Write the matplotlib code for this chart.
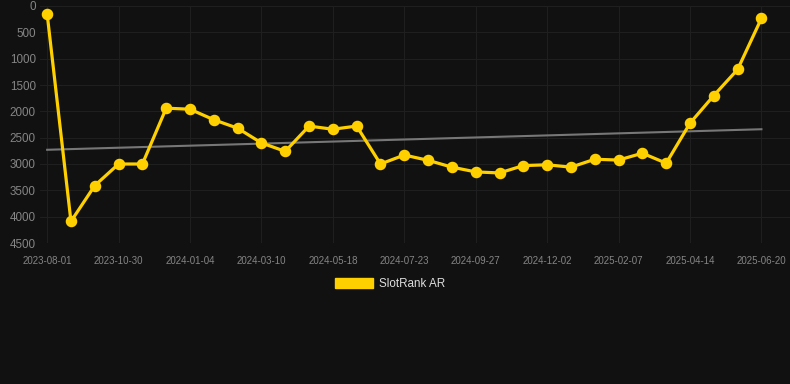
import matplotlib
matplotlib.use('Agg')
import matplotlib.pyplot as plt
from matplotlib.patches import Patch

# data (rank, lower is better -> inverted axis)
dates = ['2023-08-01', '2023-09-15', '2023-10-08', '2023-10-30', '2023-11-21', '2023-12-13',
         '2024-01-04', '2024-01-26', '2024-02-17', '2024-03-10', '2024-04-02', '2024-04-25',
         '2024-05-18', '2024-06-09', '2024-07-01', '2024-07-23', '2024-08-14', '2024-09-05',
         '2024-09-27', '2024-10-19', '2024-11-10', '2024-12-02', '2024-12-24', '2025-01-15',
         '2025-02-07', '2025-03-01', '2025-03-23', '2025-04-14', '2025-05-06', '2025-05-28',
         '2025-06-20']
ranks = [150, 4090, 3410, 3000, 3000, 1940, 1960, 2160, 2320, 2600, 2760, 2280,
         2340, 2280, 3000, 2830, 2930, 3060, 3150, 3170, 3030, 3015, 3060, 2910,
         2925, 2795, 2985, 2225, 1700, 1205, 235]
trend = [2730, 2340]  # trend line value at first and last point
series_name = 'SlotRank AR'

BG = '#111111'
YELLOW = '#ffd000'
GRID = '#1f1f1f'
TICK = '#858585'

plt.rcParams['font.family'] = ['Liberation Sans', 'DejaVu Sans']

fig = plt.figure(figsize=(7.9, 3.84), dpi=100, facecolor=BG)
ax = fig.add_axes([40 / 790, 1 - 243 / 384, 750 / 790, 237 / 384])
ax.set_facecolor(BG)

x = list(range(len(ranks)))
ax.plot([x[0], x[-1]], trend, color='#777777', lw=1.5, zorder=2)
ax.plot(x, ranks, color=YELLOW, lw=2.3, marker='o', ms=7.3, zorder=3)

ax.set_ylim(4500, 0)
ax.set_yticks(range(0, 4501, 500))
ax.set_xlim(-0.3, 31.2)
ax.set_xticks(x[::3])
ax.set_xticklabels(dates[::3])

ax.grid(True, color=GRID, lw=0.8)
ax.set_axisbelow(True)
for s in ax.spines.values():
    s.set_visible(False)
ax.tick_params(axis='y', colors=TICK, labelsize=8.4, length=0, pad=3)
ax.tick_params(axis='x', colors=TICK, labelsize=7, length=0, pad=9)

fig.legend(handles=[Patch(color=YELLOW, label=series_name)], loc='center',
           bbox_to_anchor=(390 / 790, 1 - 284 / 384), frameon=False,
           handlelength=3.3, handleheight=0.85, handletextpad=0.5,
           prop={'size': 8.4}, labelcolor='#dddddd')

fig.savefig('out.png', dpi=100, facecolor=BG)
